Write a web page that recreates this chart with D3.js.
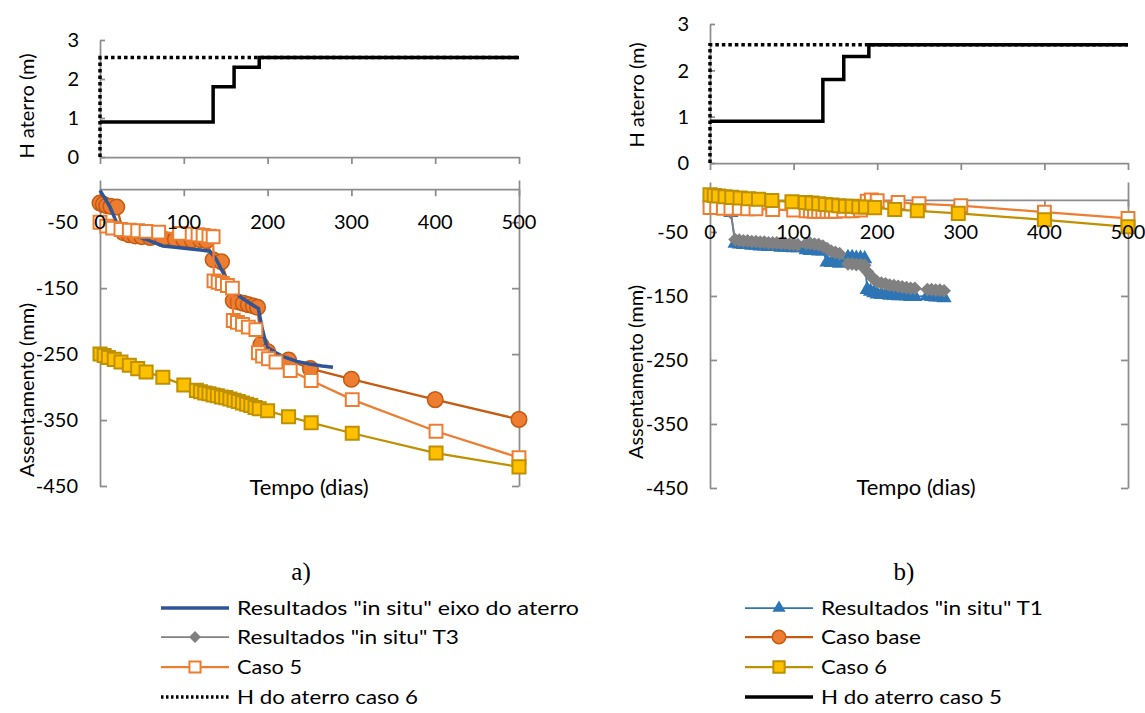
<!DOCTYPE html>
<html>
<head>
<meta charset="utf-8">
<script src="https://cdn.jsdelivr.net/npm/d3@7/dist/d3.min.js"></script>
<style>
  body { margin: 0; background: #fff; }
  svg { display: block; }
  text { font-family: Lato, "Open Sans", sans-serif; fill: #000; }
</style>
</head>
<body>
<svg id="chart" width="1145" height="713"></svg>
<script>
// ---------- Fill height (m) vs time (days) ----------
const hDias5 = [0, 135, 135, 160, 160, 190, 190, 500];
const hCaso5 = [0.9, 0.9, 1.8, 1.8, 2.3, 2.3, 2.55, 2.55];
const hDias6 = [0, 0, 500];
const hCaso6 = [0, 2.55, 2.55];

// ---------- a) settlement (mm) ----------
const eixoDias = [0, 5, 12, 18, 24, 30, 40, 55, 75, 90, 103, 120, 131, 139, 145, 152, 159, 167, 178, 189, 193, 199, 210, 219, 235, 250, 265, 278];
const eixoA    = [-2, -12, -27, -45, -62, -66, -70, -76, -86, -88, -90, -92, -94, -107, -122, -138, -150, -163, -172, -181, -208, -239, -248, -254, -261, -265, -268, -270];

const baseDiasA = [0, 4, 8, 13, 20, 28, 35, 42, 50, 60, 75, 90, 100, 110, 120, 127, 135, 145, 159, 165, 171, 177, 183, 188, 192, 200, 225, 251, 300, 400, 500];
const baseA     = [-21, -23, -25, -26, -27, -66, -69, -71, -72, -73, -75, -76, -76, -77, -77, -78, -107, -110, -169, -171, -173, -175, -177, -179, -236, -246, -259, -272, -288, -319, -349];

const caso5DiasA = [0, 8, 15, 25, 35, 45, 55, 70, 95, 110, 117, 123, 130, 135, 136, 141, 146, 152, 158, 159, 164, 170, 177, 186, 189, 194, 201, 210, 227, 252, 301, 401, 500];
const caso5A     = [-50, -56, -59, -61, -62, -63, -64, -65, -67, -68, -69, -70, -71, -72, -139, -141, -143, -146, -150, -199, -202, -205, -209, -213, -248, -253, -257, -262, -275, -290, -319, -367, -407];

const caso6DiasA = [0, 5, 10, 17, 25, 35, 45, 55, 75, 100, 115, 120, 125, 130, 135, 140, 145, 150, 155, 160, 165, 170, 175, 180, 185, 190, 200, 225, 252, 301, 401, 500];
const caso6A     = [-250, -252, -255, -258, -262, -267, -272, -277, -285, -297, -305, -307, -309, -310, -312, -313, -315, -316, -318, -320, -322, -324, -326, -328, -331, -333, -336, -345, -354, -370, -400, -421];

// ---------- b) settlement (mm) ----------
const insituDiasB = [0, 10, 20, 25, 30, 35, 40, 45, 50, 55, 60, 65, 70, 75, 80, 85, 90, 95, 100, 105, 115, 120, 125, 130, 135, 140, 145, 150, 155, 165, 170, 175, 180, 185, 188, 192, 196, 200, 205, 210, 215, 220, 225, 230, 235, 240, 245, 260, 265, 270, 275, 280];
const t1B = [0, -5, -10, -20, -68, -69, -70, -70, -71, -71, -72, -72, -73, -73, -73, -74, -74, -74, -75, -75, -78, -79, -79, -80, -80, -97, -98, -98, -99, -90, -90, -91, -91, -92, -140, -143, -145, -147, -148, -148, -149, -149, -150, -150, -150, -151, -151, -150, -151, -152, -152, -153];
const t3B = [0, -5, -10, -20, -62, -63, -64, -64, -65, -65, -66, -66, -67, -67, -67, -68, -68, -69, -69, -70, -68, -68, -69, -70, -72, -76, -80, -82, -84, -100, -100, -101, -101, -102, -112, -118, -124, -128, -130, -131, -133, -134, -135, -136, -137, -138, -138, -140, -140, -141, -141, -142];

const caso5DiasB = [0, 8, 16, 25, 35, 45, 55, 75, 100, 115, 120, 125, 130, 135, 140, 145, 150, 160, 170, 180, 188, 193, 200, 225, 250, 300, 400, 500];
const caso5B     = [-12, -12, -13, -13, -13, -14, -14, -15, -16, -17, -17, -18, -18, -18, -18, -18, -18, -17, -17, -16, -2, 0, -1, -4, -6, -9, -19, -29];

const caso6DiasB = [0, 5, 10, 18, 26, 36, 46, 58, 74, 98, 114, 122, 130, 138, 146, 154, 162, 170, 178, 186, 197, 221, 248, 297, 400, 500];
const caso6B     = [8, 7, 6, 5, 4, 3, 2, 1, -1, -3, -4, -5, -6, -7, -8, -9, -10, -10, -11, -11, -12, -15, -17, -21, -31, -42];

// ---------- ticks and labels ----------
const xTicks = [0, 100, 200, 300, 400, 500];
const hTicks = [0, 1, 2, 3];
const sTicks = [-450, -350, -250, -150, -50];
const hTitle = "H aterro (m)";
const sTitle = "Assentamento (mm)";
const xTitle = "Tempo (dias)";

// ---------- styles ----------
const AXIS = "#8c8c8c";
const st = {
  eixo:  { line: "#2F5597", width: 3.5, symbol: null },
  t1:    { line: "#2E75B6", width: 1.75, symbol: "triangle", fill: "#2E75B6", stroke: "none", size: 100 },
  t3:    { line: "#808080", width: 1.75, symbol: "diamond", fill: "#808080", stroke: "none", size: 95 },
  base:  { line: "#C55A11", width: 2.25, symbol: "circle", fill: "#ED7D31", stroke: "#C55A11", size: 190, sw: 1.5 },
  caso5: { line: "#ED7D31", width: 2.25, symbol: "square", fill: "#ffffff", stroke: "#ED7D31", size: 165, sw: 2 },
  caso6: { line: "#BF9000", width: 2.25, symbol: "square", fill: "#FFC000", stroke: "#BF9000", size: 170, sw: 2 },
  h6:    { line: "#000", width: 3.5, dash: "3.5,3", symbol: null },
  h5:    { line: "#000", width: 3.5, symbol: null }
};

const svg = d3.select("#chart");
const axisLayer = svg.append("g");
const dataLayer = svg.append("g");
const textLayer = svg.append("g");

function symbolPath(s) {
  if (s.symbol === "circle") return d3.symbol(d3.symbolCircle, s.size)();
  if (s.symbol === "square") return d3.symbol(d3.symbolSquare, s.size)();
  if (s.symbol === "triangle") return d3.symbol(d3.symbolTriangle, s.size)();
  if (s.symbol === "diamond") return d3.symbol(d3.symbolSquare, s.size)();
  return null;
}

function drawSeries(x, y, dias, vals, s) {
  const pts = dias.map((d, i) => [d, vals[i]]);
  const line = d3.line().x(d => x(d[0])).y(d => y(d[1]));
  const g = dataLayer.append("g");
  g.append("path").attr("d", line(pts)).attr("fill", "none")
    .attr("stroke", s.line).attr("stroke-width", s.width)
    .attr("stroke-dasharray", s.dash || null)
    .attr("stroke-linejoin", "miter");
  if (s.symbol) {
    const p = symbolPath(s);
    g.selectAll("path.m").data(pts).join("path").attr("class", "m")
      .attr("d", p)
      .attr("transform", d => `translate(${x(d[0])},${y(d[1])})` + (s.symbol === "diamond" ? " rotate(45)" : ""))
      .attr("fill", s.fill).attr("stroke", s.stroke).attr("stroke-width", s.sw || 0);
  }
}

function styleAxis(g) {
  g.selectAll("path.domain").attr("stroke", AXIS).attr("stroke-width", 1.75);
  g.selectAll(".tick line").attr("stroke", AXIS).attr("stroke-width", 1.75);
  g.selectAll("text").remove();
}

function panel(cfg) {
  // top: fill height
  const xt = d3.scaleLinear().domain([0, 500]).range([cfg.x0, cfg.x1]);
  const yt = d3.scaleLinear().domain([0, 3]).range([cfg.topY0, cfg.topY3]);
  axisLayer.append("g").attr("transform", `translate(0,${yt(0)})`)
    .call(d3.axisBottom(xt).tickValues(xTicks).tickSize(7).tickSizeOuter(0)).call(styleAxis);
  axisLayer.append("g").attr("transform", `translate(${cfg.x0},0)`)
    .call(d3.axisLeft(yt).tickValues(hTicks).tickSize(-5).tickSizeOuter(0)).call(styleAxis);
  textLayer.selectAll(null).data(hTicks).join("text")
    .attr("x", cfg.x0 - 21).attr("y", d => yt(d)).attr("dy", "0.36em")
    .attr("text-anchor", "end").attr("font-size", 20).text(d => d);
  textLayer.append("text")
    .attr("transform", `translate(${cfg.hTitleX},${cfg.hTitleY}) rotate(-90)`)
    .attr("text-anchor", "middle").attr("dy", "0.36em").attr("font-size", 20).text(hTitle);

  drawSeries(xt, yt, hDias6, hCaso6, st.h6);
  drawSeries(xt, yt, hDias5, hCaso5, st.h5);

  // bottom: settlement
  const xb = d3.scaleLinear().domain([0, 500]).range([cfg.x0, cfg.x1]);
  const yb = d3.scaleLinear().domain([-450, cfg.sMax]).range([cfg.botY450, cfg.botYTop]);
  axisLayer.append("g").attr("transform", `translate(0,${yb(0)})`)
    .call(d3.axisBottom(xb).tickValues(xTicks).tickSize(7).tickSizeOuter(0)).call(styleAxis);
  axisLayer.append("g").attr("transform", `translate(${cfg.x0},0)`)
    .call(d3.axisLeft(yb).tickValues(sTicks).tickSize(-7).tickSizeOuter(0)).call(styleAxis);
  axisLayer.append("g").attr("transform", `translate(${cfg.x1},0)`)
    .call(d3.axisRight(yb).tickValues(sTicks).tickSize(-7).tickSizeOuter(0)).call(styleAxis);

  cfg.series.forEach(([d, v, s]) => drawSeries(xb, yb, d, v, s));

  textLayer.selectAll(null).data(sTicks).join("text")
    .attr("x", cfg.x0 - 22).attr("y", d => yb(d)).attr("dy", "0.36em")
    .attr("text-anchor", "end").attr("font-size", 20).text(d => d);
  textLayer.selectAll(null).data(xTicks).join("text")
    .attr("x", d => xb(d)).attr("y", yb(0) + cfg.xLabOff).attr("dy", "0.36em")
    .attr("text-anchor", "middle").attr("font-size", 20).text(d => d);
  textLayer.append("text")
    .attr("transform", `translate(${cfg.sTitleX},${cfg.sTitleY}) rotate(-90)`)
    .attr("text-anchor", "middle").attr("dy", "0.36em").attr("font-size", 20).text(sTitle);
  textLayer.append("text")
    .attr("x", cfg.xTitleX).attr("y", 487).attr("dy", "0.36em")
    .attr("text-anchor", "middle").attr("font-size", 22).text(xTitle);
  textLayer.append("text")
    .attr("x", cfg.tagX).attr("y", 571).attr("dy", "0.36em")
    .attr("text-anchor", "middle").attr("font-size", 25)
    .style("font-family", "'Liberation Serif', 'Times New Roman', serif").text(cfg.tag);
}

panel({
  x0: 100, x1: 519, topY0: 157, topY3: 40, hTitleX: 27, hTitleY: 106,
  sMax: 14, botY450: 486, botYTop: 180, xLabOff: 33,
  sTitleX: 27, sTitleY: 390, xTitleX: 309, tagX: 301, tag: "a)",
  series: [
    [baseDiasA, baseA, st.base],
    [eixoDias, eixoA, st.eixo],
    [caso5DiasA, caso5A, st.caso5],
    [caso6DiasA, caso6A, st.caso6]
  ]
});

panel({
  x0: 710, x1: 1128, topY0: 163, topY3: 24, hTitleX: 637, hTitleY: 95,
  sMax: 28, botY450: 488, botYTop: 182, xLabOff: 32,
  sTitleX: 636, sTitleY: 372, xTitleX: 916, tagX: 904, tag: "b)",
  series: [
    [insituDiasB, t1B, st.t1],
    [insituDiasB, t3B, st.t3],
    [caso5DiasB, caso5B, st.caso5],
    [caso6DiasB, caso6B, st.caso6]
  ]
});

// ---------- legend ----------
const legendItems = [
  { label: 'Resultados "in situ" eixo do aterro', s: st.eixo,  col: 0, row: 0, w: 342 },
  { label: 'Resultados "in situ" T1',             s: st.t1,    col: 1, row: 0, w: 222 },
  { label: 'Resultados "in situ" T3',             s: st.t3,    col: 0, row: 1, w: 222 },
  { label: 'Caso base',                           s: st.base,  col: 1, row: 1, w: 100 },
  { label: 'Caso 5',                              s: st.caso5, col: 0, row: 2, w: 65 },
  { label: 'Caso 6',                              s: st.caso6, col: 1, row: 2, w: 66 },
  { label: 'H do aterro caso 6',                  s: st.h6,    col: 0, row: 3, w: 181 },
  { label: 'H do aterro caso 5',                  s: st.h5,    col: 1, row: 3, w: 181 }
];
const legCols = [161, 745];
const legRows = [608, 637, 667, 697];
const leg = svg.append("g");
legendItems.forEach(it => {
  const x = legCols[it.col], y = legRows[it.row];
  const g = leg.append("g");
  g.append("line").attr("x1", x).attr("x2", x + 68).attr("y1", y).attr("y2", y)
    .attr("stroke", it.s.line).attr("stroke-width", it.s.width)
    .attr("stroke-dasharray", it.s.dash ? "2.5,2.5" : null);
  if (it.s.symbol) {
    const small = Object.assign({}, it.s, { size: it.s.size * 0.75 });
    g.append("path").attr("d", symbolPath(small))
      .attr("transform", `translate(${x + 34},${y})` + (it.s.symbol === "diamond" ? " rotate(45)" : ""))
      .attr("fill", it.s.fill).attr("stroke", it.s.stroke).attr("stroke-width", it.s.sw || 0);
  }
  g.append("text").attr("x", x + 76).attr("y", y).attr("dy", "0.36em")
    .attr("font-size", 19).attr("textLength", it.w).attr("lengthAdjust", "spacingAndGlyphs")
    .text(it.label);
});
</script>
</body>
</html>
